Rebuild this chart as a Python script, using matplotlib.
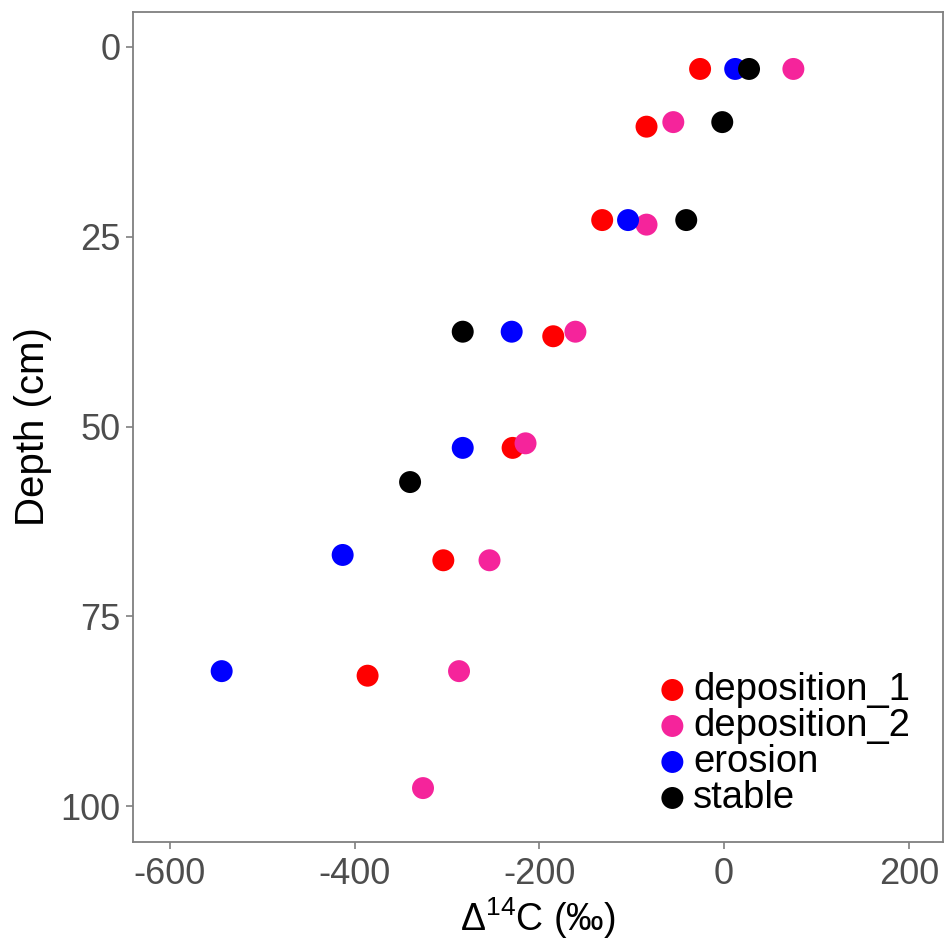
import matplotlib
matplotlib.use("Agg")
import matplotlib.pyplot as plt

plt.rcParams['font.family'] = ['Liberation Sans', 'DejaVu Sans']
plt.rcParams['mathtext.fontset'] = 'custom'
plt.rcParams['mathtext.rm'] = 'Liberation Sans'
plt.rcParams['mathtext.it'] = 'Liberation Sans'

categories = ["deposition_1", "deposition_2", "erosion", "stable"]
colors = {"deposition_1": "#FF0000", "deposition_2": "#F5249B",
          "erosion": "#0000FF", "stable": "#000000"}

dep1_x = [-26, -84, -132, -185, -229, -304, -386]
dep1_y = [2.9, 10.5, 22.8, 38.1, 52.8, 67.6, 82.8]

dep2_x = [75, -55, -84, -161, -215, -254, -287, -326]
dep2_y = [2.9, 9.9, 23.4, 37.5, 52.2, 67.6, 82.2, 97.6]

ero_x = [12, -104, -230, -283, -413, -544]
ero_y = [2.9, 22.8, 37.5, 52.8, 66.9, 82.2]

sta_x = [27, -2, -41, -283, -340]
sta_y = [2.9, 9.9, 22.8, 37.5, 57.3]

series = {"deposition_1": (dep1_x, dep1_y), "deposition_2": (dep2_x, dep2_y),
          "erosion": (ero_x, ero_y), "stable": (sta_x, sta_y)}

x_ticks = [-600, -400, -200, 0, 200]
y_ticks = [0, 25, 50, 75, 100]

fig = plt.figure(figsize=(9.45, 9.42), dpi=100)
ax = fig.add_axes([133/945, 1-842/942, (943-133)/945, (842-12)/942])

for cat in categories:
    xs, ys = series[cat]
    ax.scatter(xs, ys, s=250, color=colors[cat], edgecolors='none', label=cat, zorder=3)

ax.set_xlim(-640, 237)
ax.set_ylim(104.7, -4.6)
ax.set_xticks(x_ticks)
ax.set_yticks(y_ticks)
ax.set_xticklabels([str(v) for v in x_ticks])
ax.set_yticklabels([str(v) for v in y_ticks])

for sp in ax.spines.values():
    sp.set_color('#7f7f7f')
    sp.set_linewidth(1.3)
ax.tick_params(axis='both', colors='#7f7f7f', length=5, width=1.2,
               labelsize=26, labelcolor='#4d4d4d')
ax.tick_params(axis='x', pad=6)
ax.tick_params(axis='y', pad=4)

ax.set_xlabel(r"$\mathrm{\Delta^{14}}$C (‰)", fontsize=27, color='black', labelpad=2)
ax.set_ylabel("Depth (cm)", fontsize=29, color='black', labelpad=6)

leg = ax.legend(loc='upper left', bbox_to_anchor=(659/945, 1-672/942),
                bbox_transform=fig.transFigure, frameon=False,
                fontsize=27.5, handlelength=0.7, handletextpad=0.2,
                labelspacing=0.0, borderpad=0, borderaxespad=0,
                markerscale=1.0)

fig.savefig("out.png", dpi=100)
